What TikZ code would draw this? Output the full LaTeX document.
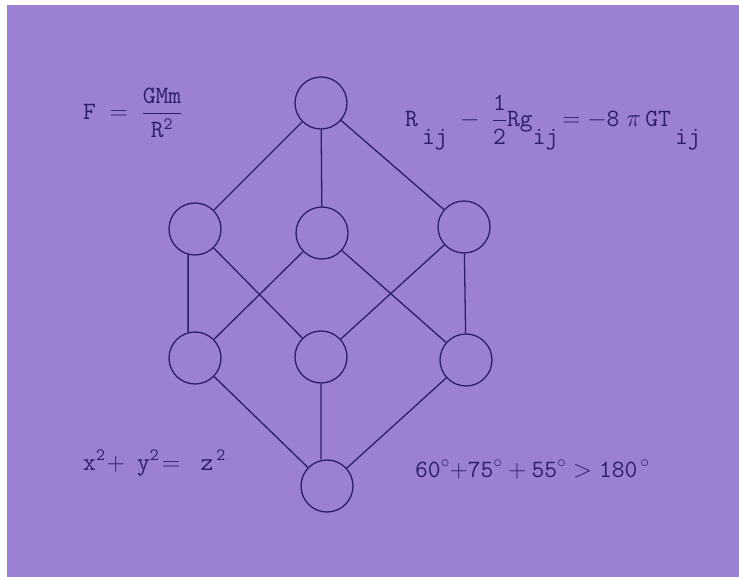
\documentclass[tikz,border=0pt]{standalone}
\usepackage{amsmath,amssymb}
\usepackage{tikz}
\definecolor{lilac}{RGB}{156,128,212}
\definecolor{ink}{RGB}{44,30,104}
\newcommand{\mt}[1]{\mathtt{#1}}
\newcommand{\low}[1]{\lower18pt\hbox{$\mt{#1}$}}

\begin{document}
\begin{tikzpicture}[x=1pt, y=-1pt,
    knot/.style={circle, draw=ink, line width=1.3pt, minimum size=52pt, inner sep=0pt},
    eqn/.style={ink, anchor=base west, inner sep=0pt, font=\fontsize{23}{27}\selectfont}]
        % Fond
        \fill[white] (0,0) rectangle (739,577);
        \fill[lilac] (7,5) rectangle (739,577);

        % Noeuds
        \node[knot] (top) at (321,103) {};
        \node[knot] (l1) at (195,229) {};
        \node[knot] (m1) at (322,233) {};
        \node[knot] (r1) at (464,227) {};
        \node[knot] (l2) at (195,358) {};
        \node[knot] (m2) at (321,357) {};
        \node[knot] (r2) at (466,360) {};
        \node[knot] (bot) at (327,486) {};

        % Aretes
        \draw[ink, line width=1.3pt] (top) -- (l1) (top) -- (m1) (top) -- (r1);
        \draw[ink, line width=1.3pt] (l1.-105) -- (l2.105) (l1) -- (m2);
        \draw[ink, line width=1.3pt] (m1) -- (l2) (m1) -- (r2);
        \draw[ink, line width=1.3pt] (r1) -- (m2) (r1) -- (r2);
        \draw[ink, line width=1.3pt] (l2) -- (bot) (m2.south) -- (m2.south |- bot.north) (r2) -- (bot);

        % Formules
        \node[eqn] (newton) at (83,120)
          {$\mt{F}\;=\;\dfrac{\mt{GMm}}{\mt{R}^{\mt{2}}}$};
        \node[eqn] (einstein) at (405,127)
          {$\mt{R}\,\low{ij}\;-\;\dfrac{\mt{1}}{\mt{2}}\mt{Rg}\low{ij}\,\mt{=-8}\;\pi\,\mt{GT}\,\low{ij}$};
        \node[eqn] (pyth) at (83,470)
          {$\mt{x}^{\mt{2}}\!+\;\mt{y}^{\mt{2}}\!=\;\;\mt{z}^{\,\mt{2}}$};
        \node[eqn] (angles) at (415,477)
          {$\mt{60}^{\circ}\mt{+75}^{\circ}+\mt{55}^{\circ}>\mt{180}^{\,\circ}$};
    \end{tikzpicture}
\end{document}
